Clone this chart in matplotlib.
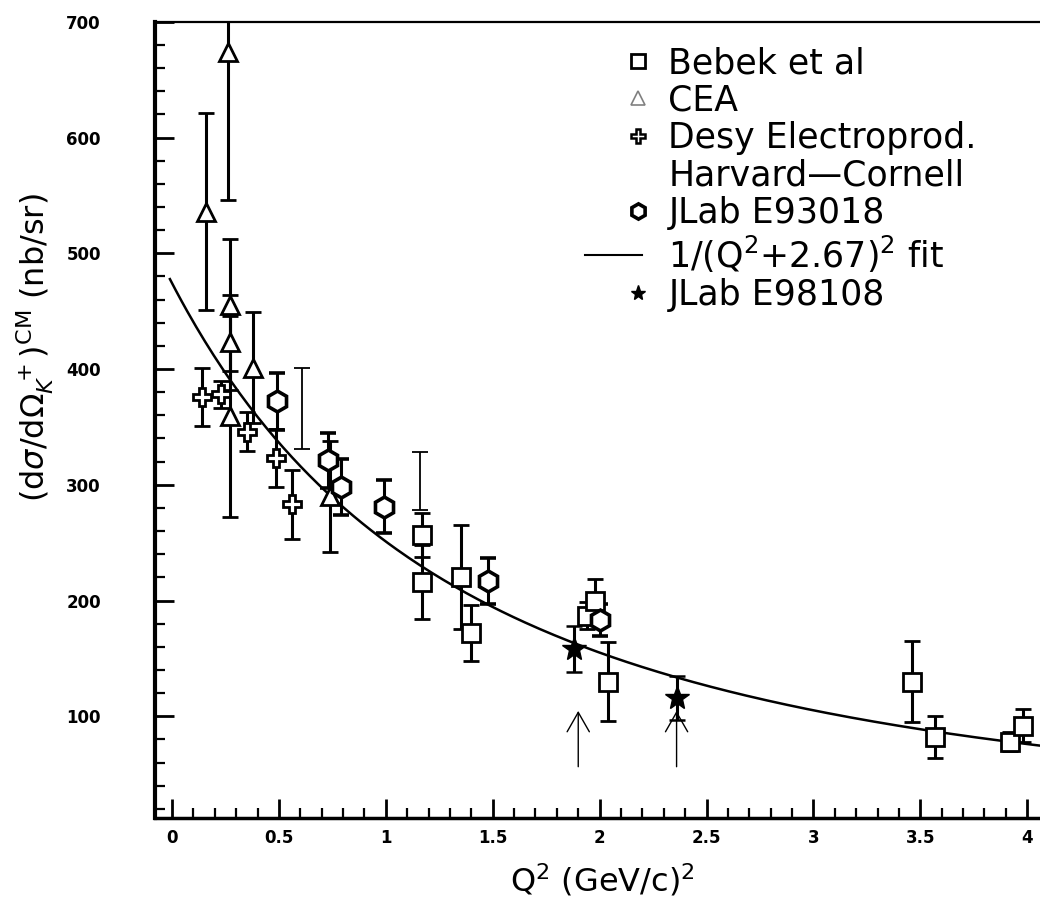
import numpy as np
import matplotlib
matplotlib.use('Agg')
import matplotlib.pyplot as plt
from matplotlib.lines import Line2D
from matplotlib.legend_handler import HandlerLine2DCompound
from matplotlib.ticker import MultipleLocator, FuncFormatter

# Bebek et al (open squares)
bebek_q2 = [1.17, 1.17, 1.35, 1.40, 1.94, 1.98, 2.04, 3.46, 3.57, 3.92, 3.98]
bebek_xs = [257, 216, 220, 172, 187, 200, 130, 130, 82, 78, 92]
bebek_err = [19, 32, 45, 24, 12, 19, 34, 35, 18, 8, 14]

# CEA (open triangles)
cea_q2 = [0.16, 0.26, 0.27, 0.27, 0.27, 0.38, 0.74]
cea_xs = [536, 674, 455, 423, 359, 401, 290]
cea_err = [85, 128, 57, 41, 87, 48, 48]

# Desy electroproduction (open crosses)
desy_q2 = [0.14, 0.23, 0.35, 0.486, 0.56]
desy_xs = [376, 378, 346, 323, 283]
desy_err = [25, 12, 17, 25, 30]

# Harvard-Cornell (bars only)
hc_q2 = [0.61, 1.16]
hc_xs = [366, 303]
hc_err = [35, 25]

# JLab E93018 (open hexagons)
e93_q2 = [0.49, 0.73, 0.79, 0.99, 1.48, 2.00]
e93_xs = [372, 321, 298, 281, 217, 183]
e93_err = [25, 24, 24, 23, 20, 14]

# JLab E98108 (stars)
e98_q2 = [1.88, 2.36]
e98_xs = [158, 116]
e98_err = [20, 19]

# kinematic arrows
arrow_q2 = [1.90, 2.36]
arrow_lo, arrow_hi = 54, 107

# fit normalisation, 1/(Q^2+2.67)^2
fit_norm = 3380
fit_m2 = 2.67


class EndMarker(HandlerLine2DCompound):
    # legend marker sits at the right end of the handle
    def get_xdata(self, legend, xdescent, ydescent, width, height, fontsize):
        xdata = np.array([-xdescent, -xdescent + width])
        return xdata, np.array([-xdescent + width - 0.12 * fontsize])


fig = plt.figure(figsize=(10.4, 9.09), dpi=100)
ax = fig.add_axes([0.149, 0.1, 0.851, 0.876])

eb = dict(ecolor='black', elinewidth=2.2, capsize=6, capthick=1.8, linestyle='none',
          mec='black', mfc='white', mew=2.0)

ax.errorbar(bebek_q2, bebek_xs, yerr=bebek_err, fmt='s', ms=13, **eb)
ax.errorbar(cea_q2, cea_xs, yerr=cea_err, fmt='^', ms=13, **eb)
ax.errorbar(desy_q2, desy_xs, yerr=desy_err, fmt='P', ms=13, **eb)
ax.errorbar(hc_q2, hc_xs, yerr=hc_err, fmt='none', ecolor='black', elinewidth=1.3,
            capsize=6, capthick=1.3)
eb['mew'] = 2.6
ax.errorbar(e93_q2, e93_xs, yerr=e93_err, fmt='h', ms=15, **eb)
ax.errorbar(e98_q2, e98_xs, yerr=e98_err, fmt='*', ms=18, ecolor='black', elinewidth=2.2,
            capsize=6, capthick=1.8, mec='black', mfc='black')

q = np.linspace(-0.01, 4.06, 300)
ax.plot(q, fit_norm / (q + fit_m2) ** 2, color='black', lw=1.8)

for xa in arrow_q2:
    ax.annotate('', xy=(xa, arrow_hi), xytext=(xa, arrow_lo),
                arrowprops=dict(arrowstyle='->,head_length=1.4,head_width=0.8',
                                color='black', lw=1.0))

ax.set_xlim(-0.08, 4.06)
ax.set_ylim(12, 700)

ax.xaxis.set_major_locator(MultipleLocator(0.5))
ax.xaxis.set_minor_locator(MultipleLocator(0.1))
ax.yaxis.set_major_locator(MultipleLocator(100))
ax.yaxis.set_minor_locator(MultipleLocator(20))
ax.xaxis.set_major_formatter(FuncFormatter(lambda v, p: f'{v:g}'))

ax.tick_params(which='both', direction='in', top=False, right=False, width=2)
ax.tick_params(which='major', length=14)
ax.tick_params(which='minor', length=7, width=1.6)
ax.tick_params(axis='y', pad=39, labelsize=12)
ax.tick_params(axis='x', pad=8, labelsize=12)
for lab in ax.get_xticklabels() + ax.get_yticklabels():
    lab.set_fontweight('bold')

ax.spines['right'].set_visible(False)
ax.spines['left'].set_linewidth(3)
ax.spines['bottom'].set_linewidth(2.5)
ax.spines['top'].set_linewidth(1.6)

fig.text(35 / 1040, 1 - 348 / 909,
         r'(d$\sigma$/d$\Omega_K^{\ +}$)$^{\rm CM}$ (nb/sr)',
         rotation=90, ha='center', va='center', fontsize=23)
fig.text(602 / 1040, 1 - 880 / 909, r'Q$^2$ (GeV/c)$^2$',
         ha='center', va='center', fontsize=23)

handles = [
    Line2D([], [], marker='s', ls='none', mfc='white', mec='black', mew=2, ms=10),
    Line2D([], [], marker='^', ls='none', mfc='white', mec='gray', mew=1.2, ms=10),
    Line2D([], [], marker='P', ls='none', mfc='white', mec='black', mew=1.8, ms=10),
    Line2D([], [], ls='none', marker='none'),
    Line2D([], [], marker='h', ls='none', mfc='white', mec='black', mew=2.6, ms=11),
    Line2D([], [], color='black', lw=1.5),
    Line2D([], [], marker='*', ls='none', mfc='black', mec='black', ms=11),
]
labels = ['Bebek et al', 'CEA', 'Desy Electroprod.', 'Harvard\u2014Cornell',
          'JLab E93018', r'1/(Q$^2$+2.67)$^2$ fit', 'JLab E98108']
ax.legend(handles, labels, loc='upper left', bbox_to_anchor=(585 / 1040, 1 - 46 / 909),
          bbox_transform=fig.transFigure, frameon=False, fontsize=25,
          borderpad=0, borderaxespad=0, handlelength=1.65, handletextpad=0.75,
          labelspacing=0.1, handler_map={Line2D: EndMarker()})

fig.savefig('out.png', dpi=100)
